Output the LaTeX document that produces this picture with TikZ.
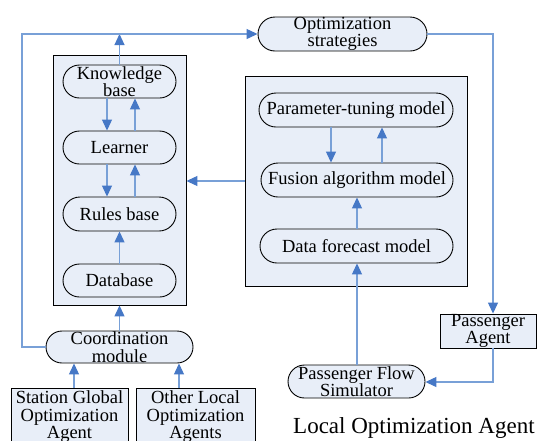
\documentclass[tikz,border=0pt]{standalone}
\usepackage{fontspec}
\setmainfont{Liberation Serif}
\usetikzlibrary{arrows.meta,shapes.misc}
\definecolor{boxfill}{RGB}{232,238,248}
\definecolor{linkblue}{RGB}{120,160,215}
\definecolor{tipblue}{RGB}{70,120,198}
\begin{document}
\begin{tikzpicture}[x=1pt,y=-1pt,
  panel/.style={draw=black,line width=0.9pt,fill=boxfill,inner sep=0pt},
  pill/.style={rounded rectangle,draw=black,line width=0.9pt,fill=boxfill,inner sep=0pt},
  lbl/.style={inner sep=0pt,align=center,font=\fontsize{18.5}{17.5}\selectfont},
  link/.style={draw=linkblue,line width=1.2pt},
  arrow/.style={link,-{Triangle[length=11pt,width=10pt,color=tipblue]}}]
\useasboundingbox (0,0) rectangle (537,440);

% knowledge-processing panel on the left
\node[panel,minimum width=133pt,minimum height=250pt] (leftbox) at (119.5,180) {};
\node[pill,minimum width=113pt,minimum height=33pt] (kb) at (119.5,81.5) {};
\node[lbl] at (kb) {Knowledge\\base};
\node[pill,minimum width=113pt,minimum height=33pt] (learner) at (119.5,147.5) {};
\node[lbl] at (learner) {Learner};
\node[pill,minimum width=113pt,minimum height=34pt] (rules) at (119.5,214) {};
\node[lbl] at (rules) {Rules base};
\node[pill,minimum width=113pt,minimum height=33pt] (db) at (119.5,280.5) {};
\node[lbl] at (db) {Database};

% model panel on the right
\node[panel,minimum width=222pt,minimum height=210pt] (rightbox) at (356,181) {};
\node[pill,minimum width=194pt,minimum height=34pt] (param) at (356,110) {};
\node[lbl] at (param) {Parameter-tuning model};
\node[pill,minimum width=192pt,minimum height=34pt] (fusion) at (357,180) {};
\node[lbl] at (fusion) {Fusion algorithm model};
\node[pill,minimum width=193pt,minimum height=34pt] (data) at (356.5,246) {};
\node[lbl] at (data) {Data forecast model};

% outer elements
\node[pill,minimum width=169pt,minimum height=34pt] (opt) at (342.5,34) {};
\node[lbl] at (opt) {Optimization\\strategies};
\node[pill,minimum width=147pt,minimum height=32pt] (coord) at (119.5,347) {};
\node[lbl] at (coord) {Coordination\\module};
\node[panel,minimum width=117pt,minimum height=57pt] (station) at (69.5,416.5) {};
\node[lbl,anchor=north] at (station.north |- 0,390.5) {Station Global\\Optimization\\Agent};
\node[panel,minimum width=119pt,minimum height=57pt] (other) at (195.5,416.5) {};
\node[lbl,anchor=north] at (other.north |- 0,390.5) {Other Local\\Optimization\\Agents};
\node[panel,minimum width=96pt,minimum height=34pt] (pagent) at (488,331) {};
\node[lbl] at (pagent) {Passenger\\Agent};
\node[pill,minimum width=137pt,minimum height=33pt] (sim) at (356.5,381.5) {};
\node[lbl] at (sim) {Passenger Flow\\Simulator};
\node[inner sep=0pt,anchor=base west,font=\fontsize{23}{23}\selectfont] (title) at (293,433) {Local Optimization Agent};

% connector columns
\coordinate (xa) at (107,0);
\coordinate (xb) at (135,0);
\coordinate (xc) at (331,0);
\coordinate (xd) at (382,0);
\coordinate (xe) at (74,0);
\coordinate (xf) at (179,0);
\coordinate (xg) at (493,0);
\coordinate (topleft) at (22,34);
\coordinate (topright) at (493,34);
\coordinate (simturn) at (493,382);

% links inside the left panel
\draw[arrow] (kb.south -| xa) -- (learner.north -| xa);
\draw[arrow] (learner.north -| xb) -- (kb.south -| xb);
\draw[arrow] (learner.south -| xa) -- (rules.north -| xa);
\draw[arrow] (rules.north -| xb) -- (learner.south -| xb);
\draw[arrow] (db.north) -- (rules.south);

% links inside the right panel
\draw[arrow] (param.south -| xc) -- (fusion.north -| xc);
\draw[arrow] (fusion.north -| xd) -- (param.south -| xd);
\draw[arrow] (data.north -| fusion.south) -- (fusion.south);

% links between elements
\draw[arrow] (kb.north) -- (kb.north |- topleft);
\draw[arrow] (coord.west) -| (topleft) -- (opt.west);
\draw[arrow] (coord.north) -- (leftbox.south);
\draw[arrow] (station.north -| xe) -- (coord.south -| xe);
\draw[arrow] (other.north -| xf) -- (coord.south -| xf);
\draw[arrow] (rightbox.west |- 0,181) -- (leftbox.east |- 0,181);
\draw[arrow] (opt.east) -- (topright) -- (pagent.north -| xg);
\draw[arrow] (pagent.south -| xg) -- (simturn) -- (sim.east |- simturn);
\draw[arrow] (sim.north -| fusion.south) -- (data.south -| fusion.south);
\end{tikzpicture}
\end{document}
